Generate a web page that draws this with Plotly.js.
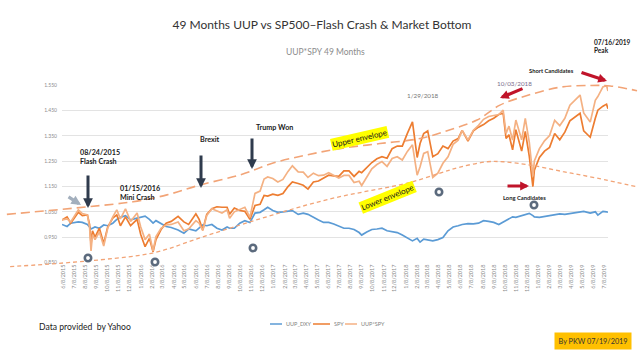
<!DOCTYPE html>
<html>
<head>
<meta charset="utf-8">
<script src="https://cdn.plot.ly/plotly-3.0.1.min.js"></script>
<style>html,body{margin:0;padding:0;background:#fff}#chart{width:640px;height:360px}</style>
</head>
<body>
<div id="chart"></div>
<script>
// ---------------- data ----------------
const dates = [
"2015-06-05","2015-06-19","2015-06-29","2015-07-10","2015-07-20","2015-07-31","2015-08-14","2015-08-20","2015-08-24","2015-08-28","2015-09-04","2015-09-16","2015-09-28","2015-10-09","2015-10-23","2015-11-03","2015-11-13","2015-11-27","2015-12-11","2015-12-29",
"2016-01-08","2016-01-20","2016-02-01","2016-02-11","2016-02-19","2016-03-04","2016-03-18","2016-04-01","2016-04-20","2016-05-06","2016-05-19","2016-06-08","2016-06-17","2016-06-27","2016-07-08","2016-07-22","2016-08-05","2016-08-19","2016-09-02","2016-09-09","2016-09-22","2016-10-07","2016-10-21","2016-11-04","2016-11-18","2016-12-02","2016-12-13","2016-12-23",
"2017-01-06","2017-01-20","2017-02-03","2017-02-17","2017-03-01","2017-03-17","2017-03-31","2017-04-13","2017-04-28","2017-05-12","2017-05-26","2017-06-09","2017-06-23","2017-07-07","2017-07-21","2017-08-04","2017-08-18","2017-09-01","2017-09-08","2017-09-22","2017-10-06","2017-10-20","2017-11-03","2017-11-17","2017-12-01","2017-12-15","2017-12-29",
"2018-01-12","2018-01-26","2018-02-08","2018-02-16","2018-02-26","2018-03-09","2018-03-23","2018-04-06","2018-04-20","2018-05-04","2018-05-18","2018-06-01","2018-06-12","2018-06-28","2018-07-13","2018-07-27","2018-08-10","2018-08-24","2018-09-07","2018-09-21","2018-10-03","2018-10-11","2018-10-19","2018-10-29","2018-11-07","2018-11-23","2018-12-03","2018-12-14","2018-12-24","2018-12-28",
"2019-01-11","2019-01-25","2019-02-08","2019-02-22","2019-03-08","2019-03-22","2019-04-05","2019-04-19","2019-05-03","2019-05-13","2019-05-31","2019-06-14","2019-06-21","2019-07-05","2019-07-15","2019-07-19"];

const uupDxy = [
1.000,0.992,1.005,1.008,1.010,1.008,1.000,0.990,0.982,0.985,0.990,0.985,0.998,0.995,1.005,1.020,1.028,1.035,1.018,1.025,
1.030,1.033,1.020,1.005,1.015,1.005,0.992,0.988,0.978,0.965,0.982,0.975,0.985,0.998,0.995,1.000,0.985,0.978,0.990,0.985,0.985,1.005,1.015,1.008,1.045,1.048,1.058,1.068,
1.055,1.048,1.050,1.052,1.055,1.040,1.045,1.040,1.030,1.018,1.008,1.008,1.002,0.995,0.985,0.985,0.980,0.968,0.958,0.970,0.980,0.982,0.985,0.975,0.970,0.968,0.958,
0.948,0.935,0.945,0.930,0.942,0.940,0.935,0.940,0.948,0.975,0.990,0.995,1.000,1.003,1.002,1.005,1.015,1.012,1.008,1.000,1.010,1.015,1.025,1.030,1.028,1.035,1.038,1.044,1.035,1.030,
1.028,1.032,1.036,1.038,1.042,1.040,1.044,1.046,1.050,1.052,1.045,1.050,1.037,1.052,1.050,1.048];

const spy = [
1.018,1.030,1.005,1.028,1.048,1.035,1.038,1.000,0.922,0.975,0.950,0.985,0.925,0.990,1.025,1.038,0.995,1.030,0.995,1.020,
0.960,0.912,0.945,0.892,0.940,0.980,1.005,1.012,1.032,1.010,1.000,1.042,1.020,0.978,1.040,1.062,1.070,1.068,1.068,1.040,1.065,1.055,1.052,1.020,1.075,1.080,1.115,1.112,
1.120,1.115,1.122,1.150,1.168,1.162,1.155,1.140,1.168,1.172,1.185,1.195,1.192,1.190,1.212,1.212,1.190,1.210,1.205,1.225,1.245,1.260,1.268,1.262,1.300,1.310,1.310,
1.360,1.406,1.265,1.320,1.360,1.370,1.268,1.280,1.310,1.300,1.330,1.340,1.372,1.330,1.370,1.385,1.395,1.410,1.420,1.435,1.440,1.340,1.355,1.295,1.375,1.290,1.368,1.270,1.150,1.215,
1.265,1.290,1.305,1.360,1.335,1.365,1.410,1.425,1.440,1.370,1.345,1.420,1.452,1.468,1.476,1.458];

const uupSpy = [
1.018,1.022,1.010,1.036,1.058,1.043,1.038,0.990,0.895,0.960,0.940,0.970,0.915,0.985,1.030,1.058,1.022,1.062,1.012,1.045,
0.990,0.940,0.962,0.895,0.952,0.985,0.998,1.000,1.010,0.975,0.982,1.015,1.005,0.976,1.035,1.062,1.055,1.045,1.058,1.025,1.050,1.060,1.068,1.028,1.123,1.132,1.180,1.188,
1.182,1.168,1.178,1.210,1.232,1.208,1.207,1.186,1.203,1.193,1.195,1.205,1.195,1.184,1.194,1.194,1.166,1.171,1.154,1.188,1.220,1.237,1.249,1.230,1.261,1.268,1.255,
1.289,1.315,1.195,1.228,1.281,1.288,1.186,1.203,1.242,1.268,1.317,1.333,1.372,1.334,1.373,1.392,1.416,1.427,1.431,1.435,1.452,1.360,1.389,1.334,1.413,1.335,1.420,1.326,1.190,1.251,
1.300,1.331,1.352,1.412,1.391,1.420,1.472,1.491,1.512,1.441,1.405,1.491,1.506,1.544,1.550,1.528];

const upperEnvDates = ["2015-01-04","2015-08-16","2015-12-18","2016-03-20","2016-06-19","2016-10-08","2017-01-07","2017-04-10","2017-07-10","2017-10-28","2018-02-16","2018-05-10","2018-07-23","2018-09-24","2018-12-08","2019-03-09","2019-05-31","2019-07-25","2019-10-07"];
const upperEnvVals = [1.040,1.070,1.090,1.117,1.156,1.196,1.243,1.275,1.300,1.320,1.340,1.375,1.413,1.472,1.510,1.543,1.550,1.548,1.529];
const lowerEnvDates = ["2015-01-13","2015-09-17","2016-02-16","2016-06-19","2016-10-08","2017-01-07","2017-04-10","2017-07-10","2017-10-09","2018-01-11","2018-04-12","2018-06-06","2018-08-20","2018-10-03","2018-12-16","2019-03-17","2019-06-19","2019-10-07"];
const lowerEnvVals = [0.833,0.860,0.889,0.947,0.998,1.038,1.077,1.110,1.136,1.163,1.203,1.227,1.248,1.248,1.235,1.209,1.183,1.149];

const tickLabels = ["6/8/2015","7/8/2015","8/8/2015","9/8/2015","10/8/2015","11/8/2015","12/8/2015",
"1/8/2016","2/8/2016","3/8/2016","4/8/2016","5/8/2016","6/8/2016","7/8/2016","8/8/2016","9/8/2016","10/8/2016","11/8/2016","12/8/2016",
"1/8/2017","2/8/2017","3/8/2017","4/8/2017","5/8/2017","6/8/2017","7/8/2017","8/8/2017","9/8/2017","10/8/2017","11/8/2017","12/8/2017",
"1/8/2018","2/8/2018","3/8/2018","4/8/2018","5/8/2018","6/8/2018","7/8/2018","8/8/2018","9/8/2018","10/8/2018","11/8/2018","12/8/2018",
"1/8/2019","2/8/2019","3/8/2019","4/8/2019","5/8/2019","6/8/2019","7/8/2019"];
const yTicks = [0.85,0.95,1.05,1.15,1.25,1.35,1.45,1.55];

// ---------------- geometry ----------------
const W = 640, H = 360, L = 62, R = 608, T = 85.3, B = 262.5;
const xStart = "2015-06-05", xEnd = "2019-07-19";
const yMin = 0.8495, yMax = 1.5505;
const tickVals = tickLabels.map(s => { const [m,d,y] = s.split("/"); return y + "-" + m.padStart(2,"0") + "-" + d.padStart(2,"0"); });
const ms0 = Date.parse(xStart + "T00:00:00Z"), ms1 = Date.parse(xEnd + "T00:00:00Z");
const ppx = (ms1 - ms0) / (R - L);
const fmt = ms => new Date(ms).toISOString().replace("T"," ").replace("Z","");
const x2Range = [fmt(ms0 - L*ppx), fmt(ms1 + (W-R)*ppx)];
const ppy = (yMax - yMin) / (B - T);
const y2Range = [yMin - (H-B)*ppy, yMax + T*ppy];
const px = v => v / W, py = v => 1 - v / H;

const FONT = 'Lato, "Liberation Sans", sans-serif';

const traces = [
  {x: dates, y: uupDxy, name: "UUP_DXY", type: "scatter", mode: "lines", line: {color: "#5B9BD5", width: 1.7}, showlegend: false},
  {x: dates, y: spy, name: "SPY", type: "scatter", mode: "lines", line: {color: "#ED7D31", width: 1.7}, showlegend: false},
  {x: dates, y: uupSpy, name: "UUP*SPY", type: "scatter", mode: "lines", line: {color: "#F4B183", width: 1.7}, showlegend: false},
  {x: upperEnvDates, y: upperEnvVals, name: "Upper envelope", xaxis: "x2", yaxis: "y2", type: "scatter", mode: "lines",
   line: {color: "#F2A477", width: 1.6, dash: "9px,5px", shape: "spline"}, showlegend: false, hoverinfo: "skip"},
  {x: lowerEnvDates, y: lowerEnvVals, name: "Lower envelope", xaxis: "x2", yaxis: "y2", type: "scatter", mode: "lines",
   line: {color: "#F2A477", width: 1.3, dash: "4px,3px", shape: "spline"}, showlegend: false, hoverinfo: "skip"}
];

function txt(text, x, y, o) {
  o = o || {};
  return Object.assign({text: text, x: px(x), y: py(y), xref: "paper", yref: "paper", showarrow: false,
    xanchor: "left", yanchor: "middle", font: {family: FONT, size: 7, color: "#1a1a1a"}}, o);
}
function arrow(hx, hy, tx, ty, color, width, size) {
  return {text: "", x: px(hx), y: py(hy), xref: "paper", yref: "paper", showarrow: true,
    ax: tx - hx, ay: ty - hy, axref: "pixel", ayref: "pixel", arrowcolor: color, arrowwidth: width,
    arrowhead: 2, arrowsize: size, standoff: 0, startstandoff: 0};
}

const annotations = [
  txt("UUP*SPY 49 Months", 325, 52, {xanchor: "center", font: {family: FONT, size: 8.5, color: "#8c8c8c"}}),
  txt("<b>07/16/2019</b><br><b>Peak</b>", 592, 37, {yanchor: "top", align: "left", font: {family: FONT, size: 6.5, color: "#1a1a1a"}}),
  txt("<b>Short Candidates</b>", 527, 71, {font: {family: FONT, size: 5.8, color: "#1a1a1a"}}),
  txt("10/03/2018", 495, 83, {font: {family: FONT, size: 6.3, color: "#7a6e8e"}}),
  txt("1/29/2018", 405, 96, {font: {family: FONT, size: 6.3, color: "#777777"}}),
  txt("<b>08/24/2015</b><br><b>Flash Crash</b>", 78, 146, {yanchor: "top", align: "left", font: {family: FONT, size: 7.2, color: "#1a1a1a"}}),
  txt("<b>01/15/2016</b><br><b>Mini Crash</b>", 118, 182, {yanchor: "top", align: "left", font: {family: FONT, size: 7.2, color: "#1a1a1a"}}),
  txt("<b>Brexit</b>", 198, 139, {font: {family: FONT, size: 7.2, color: "#1a1a1a"}}),
  txt("<b>Trump Won</b>", 254, 127, {font: {family: FONT, size: 7.2, color: "#1a1a1a"}}),
  txt("<b>Long Candidates</b>", 501, 197, {font: {family: FONT, size: 5.8, color: "#1a1a1a"}}),
  txt("Upper envelope", 359, 138, {xanchor: "center", textangle: -13, bgcolor: "#FFFF00", borderpad: 0.5, font: {family: FONT, size: 8, color: "#1a1a1a"}}),
  txt("Lower envelope", 387, 197, {xanchor: "center", textangle: -22, bgcolor: "#FFFF00", borderpad: 0.5, font: {family: FONT, size: 8, color: "#1a1a1a"}}),
  txt("Data provided  by Yahoo", 37, 327, {font: {family: FONT, size: 8.6, color: "#1a1a1a"}}),
  txt("By PKW 07/19/2019", 592.5, 340.5, {xanchor: "center", bgcolor: "#FFC000", borderpad: 3.5, font: {family: FONT, size: 7.3, color: "#333333"}}),
  // legend texts
  txt("UUP_DXY", 284, 324, {font: {family: FONT, size: 5.5, color: "#7f7f7f"}}),
  txt("SPY", 332, 324, {font: {family: FONT, size: 5.5, color: "#7f7f7f"}}),
  txt("UUP*SPY", 359, 324, {font: {family: FONT, size: 5.5, color: "#7f7f7f"}}),
  // arrows
  arrow(88, 208, 88, 174, "#2f3b4d", 3, 0.65),
  arrow(201, 188, 201, 154, "#2f3b4d", 3, 0.65),
  arrow(252, 169, 252, 137, "#2f3b4d", 3, 0.65),
  arrow(81, 205, 67, 196, "#a3afbd", 3.2, 0.6),
  arrow(607, 81, 580, 72, "#c0142a", 3.2, 0.55),
  arrow(500, 98, 524, 88, "#c0142a", 3.2, 0.55),
  arrow(529, 186, 506, 186, "#c0142a", 3.2, 0.55)
];

const rings = [[88,258],[155,262],[253,248],[439,192],[534,205]];
const shapes = rings.map(([cx,cy]) => ({type: "circle", xref: "paper", yref: "paper",
  x0: px(cx-3.2), x1: px(cx+3.2), y0: py(cy+3.2), y1: py(cy-3.2),
  fillcolor: "#ffffff", line: {color: "#5b6a7d", width: 2.6}}));
// legend line samples
shapes.push({type: "line", xref: "paper", yref: "paper", x0: px(270), x1: px(282), y0: py(324), y1: py(324), line: {color: "#5B9BD5", width: 1.5}});
shapes.push({type: "line", xref: "paper", yref: "paper", x0: px(313), x1: px(330), y0: py(324), y1: py(324), line: {color: "#ED7D31", width: 1.5}});
shapes.push({type: "line", xref: "paper", yref: "paper", x0: px(345), x1: px(357), y0: py(324), y1: py(324), line: {color: "#F4B183", width: 1.5}});

const layout = {
  width: W, height: H,
  margin: {l: 0, r: 0, t: 0, b: 0, pad: 0},
  paper_bgcolor: "#ffffff", plot_bgcolor: "rgba(0,0,0,0)",
  showlegend: false,
  title: {text: "49 Months UUP vs SP500–Flash Crash & Market Bottom", x: 322/W, xanchor: "center", xref: "paper",
    y: 1 - 25/H, yanchor: "middle", yref: "paper", font: {family: FONT, size: 12, color: "#333333"}},
  xaxis: {type: "date", domain: [L/W, R/W], range: [xStart, xEnd], tickmode: "array", tickvals: tickVals, ticktext: tickLabels,
    tickangle: -90, tickfont: {family: FONT, size: 5.5, color: "#8c8c8c"}, showgrid: false, zeroline: false, showline: false,
    ticks: "", anchor: "y"},
  yaxis: {domain: [1 - B/H, 1 - T/H], range: [yMin, yMax], tickmode: "array", tickvals: yTicks, tickformat: ".3f",
    tickfont: {family: FONT, size: 5, color: "#8c8c8c"}, showgrid: true, gridcolor: "#dcdcdc", gridwidth: 0.8,
    zeroline: false, showline: false, ticks: "", ticklabelstandoff: 4, anchor: "x"},
  xaxis2: {type: "date", domain: [0, 1], range: x2Range, visible: false, anchor: "y2", showgrid: false},
  yaxis2: {domain: [0, 1], range: y2Range, visible: false, anchor: "x2", showgrid: false},
  annotations: annotations,
  shapes: shapes
};

Plotly.newPlot("chart", traces, layout, {staticPlot: true, displayModeBar: false});
</script>
</body>
</html>
